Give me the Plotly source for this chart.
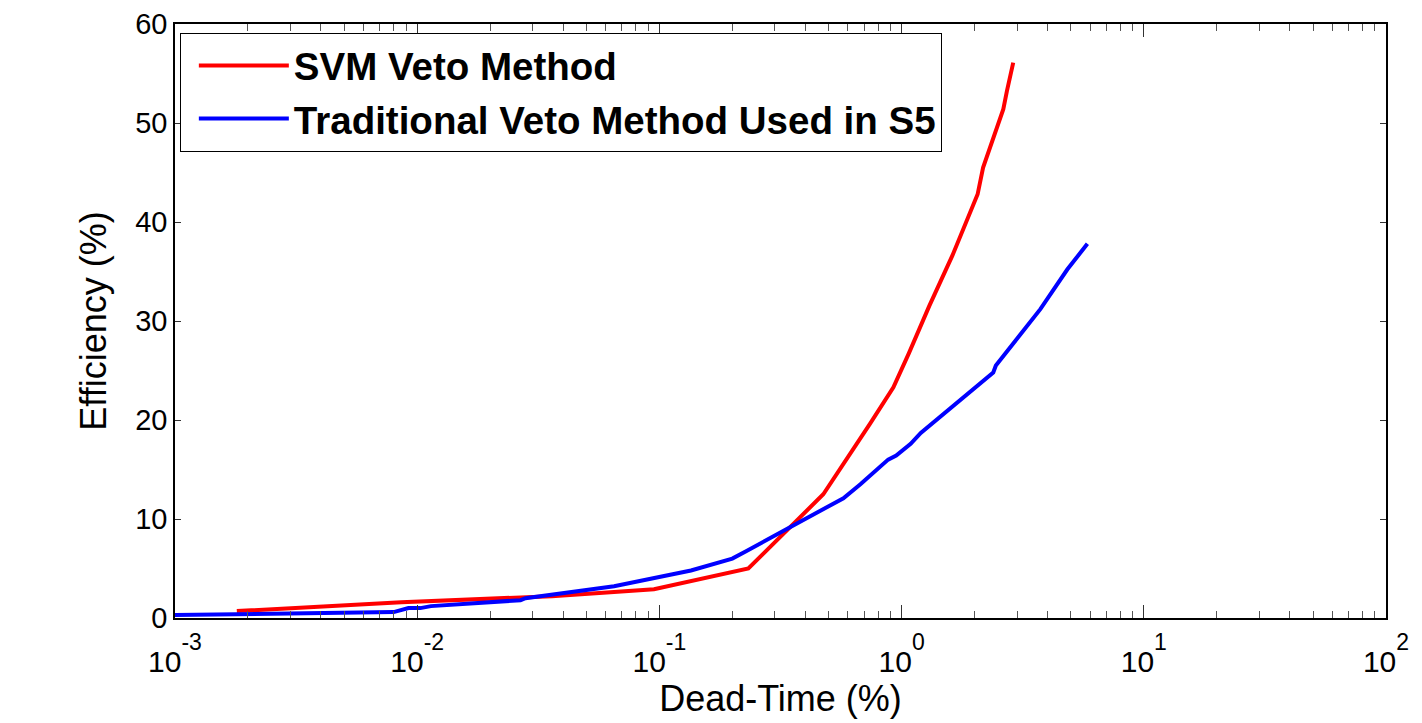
import plotly.graph_objects as go

# Data
svm_deadtime = [0.0018, 0.0086, 0.036, 0.095, 0.233, 0.475, 0.74, 0.925, 1.07, 1.3,
                1.62, 1.85, 2.06, 2.17, 2.4, 2.63, 2.72, 2.89]
svm_eff = [0.7, 1.6, 2.2, 2.9, 5.0, 12.5, 19.6, 23.3, 26.7, 31.5,
           36.6, 40.0, 42.8, 45.5, 48.5, 51.4, 53.2, 56.1]

trad_deadtime = [0.001, 0.004, 0.008, 0.0092, 0.0103, 0.0114, 0.0267, 0.028, 0.065,
                 0.135, 0.2, 0.23, 0.575, 0.676, 0.88, 0.95, 1.09, 1.2, 2.39, 2.45,
                 3.74, 4.83, 5.85]
trad_eff = [0.3, 0.5, 0.6, 1.0, 1.0, 1.2, 1.8, 2.0, 3.2, 4.8, 6.0, 6.8, 12.1, 13.5,
            16.0, 16.4, 17.6, 18.7, 24.8, 25.5, 31.2, 35.2, 37.8]

series_names = ["SVM Veto Method", "Traditional Veto Method Used in S5"]
x_tickvals = [0.001, 0.01, 0.1, 1, 10, 100]
x_exponents = ["-3", "-2", "-1", "0", "1", "2"]
y_tickvals = [0, 10, 20, 30, 40, 50, 60]

x_ticktext = ["10<sup><span style='font-size:23px;baseline-shift:9px'>%s</span></sup>" % e
              for e in x_exponents]

FONT = "Liberation Sans, Arial, sans-serif"

fig = go.Figure()
fig.add_trace(go.Scatter(x=svm_deadtime, y=svm_eff, mode="lines", name=series_names[0],
                         line=dict(color="#ff0000", width=4)))
fig.add_trace(go.Scatter(x=trad_deadtime, y=trad_eff, mode="lines", name=series_names[1],
                         line=dict(color="#0000ff", width=4)))

fig.update_layout(
    width=1422, height=723,
    margin=dict(l=167, r=44, t=16, b=113, autoexpand=False),
    paper_bgcolor="white", plot_bgcolor="white",
    font=dict(family=FONT, color="black"),
    showlegend=True,
    legend=dict(
        x=0.004, y=0.985, xanchor="left", yanchor="top",
        bgcolor="white", bordercolor="black", borderwidth=1,
        font=dict(family=FONT, size=38.5, color="black", weight="bold"),
        itemwidth=90,
        indentation=13,
        tracegroupgap=0,
    ),
)
fig.update_xaxes(
    type="log", range=[-3, 2], automargin=False,
    tickmode="array", tickvals=x_tickvals, ticktext=x_ticktext,
    ticks="inside", ticklen=13, tickwidth=1, tickcolor="#333",
    ticklabelstandoff=16,
    minor=dict(ticks="inside", ticklen=7, tickwidth=1, tickcolor="#555", dtick="D1",
               showgrid=False),
    showline=True, linecolor="black", linewidth=1.5, mirror="allticks",
    showgrid=False, zeroline=False,
    tickfont=dict(family=FONT, size=30, color="black"),
    title=dict(text="Dead-Time (%)", font=dict(family=FONT, size=36, color="black"),
               standoff=8),
)
fig.update_yaxes(
    range=[0, 60], tickvals=y_tickvals, automargin=False,
    ticks="inside", ticklen=6, tickwidth=1, tickcolor="#333",
    showline=True, linecolor="black", linewidth=1.5, mirror="allticks",
    showgrid=False, zeroline=False,
    tickfont=dict(family=FONT, size=29, color="black"),
    title=dict(text="Efficiency (%)", font=dict(family=FONT, size=36, color="black"),
               standoff=18),
)

fig.write_html("out.html")
